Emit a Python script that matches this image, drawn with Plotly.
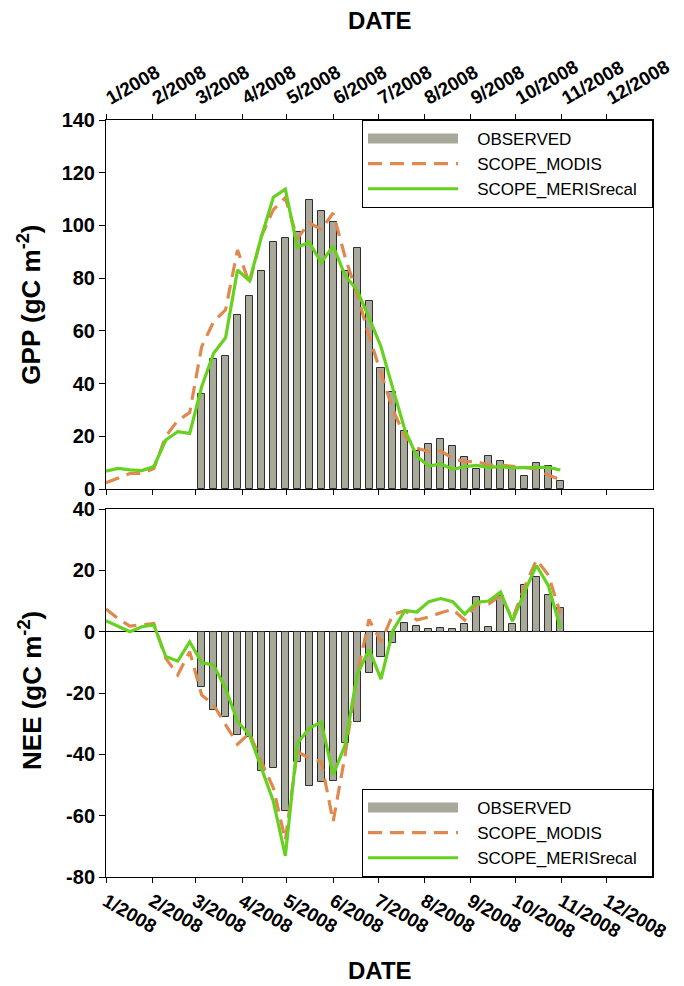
import plotly.graph_objects as go

# ---- data ----
dates = ["2008-01-01", "2008-01-09", "2008-01-17", "2008-01-25", "2008-02-02", "2008-02-10",
         "2008-02-18", "2008-02-26", "2008-03-05", "2008-03-13", "2008-03-21", "2008-03-29",
         "2008-04-06", "2008-04-14", "2008-04-22", "2008-04-30", "2008-05-08", "2008-05-16",
         "2008-05-24", "2008-06-01", "2008-06-09", "2008-06-17", "2008-06-25", "2008-07-03",
         "2008-07-11", "2008-07-19", "2008-07-27", "2008-08-04", "2008-08-12", "2008-08-20",
         "2008-08-28", "2008-09-05", "2008-09-13", "2008-09-21", "2008-09-29", "2008-10-07",
         "2008-10-15", "2008-10-23", "2008-10-31"]
obs_dates = dates[8:]

gpp_observed = [36, 49.3, 50.5, 66, 73.4, 82.7, 93.6, 95.2, 97.4, 109.5, 105.5, 101.2, 82.7, 91.6,
                71.5, 46, 36.9, 22.1, 14.4, 16.9, 19, 16.4, 12, 7.6, 12.4, 10.7, 7.8, 4.9, 9.7, 8.7, 3.0]
gpp_modis = [2.4, 4.3, 5.9, 5.9, 7.8, 20, 26, 29, 54, 63.5, 68, 90.7, 78, 96, 106, 110.5, 95, 101,
             98.5, 104.7, 88, 74, 58, 44, 30, 20, 15.5, 14.2, 14.5, 11.6, 10.4, 10.4, 9.1, 9.1, 8.7,
             8.2, 7.5, 5.3, 3.5]
gpp_meris = [6.8, 7.8, 7.3, 7.0, 8.5, 18.6, 21.8, 21.1, 38.8, 51.5, 57.4, 83.1, 79, 95.7, 110.7,
             113.8, 91.7, 93.6, 85.9, 92.2, 81, 75.5, 65, 54, 38, 22.4, 12.3, 8.7, 9.5, 7.5, 8.5,
             9.0, 8.2, 8.5, 8.0, 8.2, 8.2, 8.2, 7.2]

nee_observed = [-17.9, -25.7, -27.9, -33.7, -34.4, -45.4, -44.3, -58.4, -42.4, -50.3, -49.1, -48.7,
                -36.4, -29.5, -13.4, -8.4, -3.8, 2.7, 2.0, 0.8, 1.2, 1.0, 2.5, 11.4, 1.5, 11.6, 2.6,
                15.3, 17.9, 12.1, 7.6]
nee_modis = [7.4, 4.3, 1.8, 2.2, 2.7, -8.7, -14.1, -6.5, -20.6, -23.9, -30.4, -36.7, -33.1, -42.4,
             -51, -68, -39.1, -41.3, -42.4, -61.9, -40.2, -14.1, 4.0, -3.4, 5.6, 6.9, 3.8, 4.8, 6.2,
             7.3, 3.8, 9.0, 9.0, 11.8, 4.2, 14.5, 23.4, 18.5, 6.0]
nee_meris = [3.6, 1.8, 0, 1.6, 2.2, -8.1, -9.6, -3.3, -10.1, -10.9, -18.5, -29.3, -33.7, -44.5,
             -55.4, -73.1, -36.4, -31.5, -29.5, -46.7, -36.9, -14.1, -5.8, -15.5, 0.4, 6.9, 6.4,
             9.8, 10.8, 9.8, 5.7, 9.6, 10.0, 12.9, 3.4, 12.9, 21.6, 15.0, 1.2]

tick_vals = ["2008-%02d-01" % m for m in range(1, 13)]
tick_text = ["%d/2008" % m for m in range(1, 13)]
gpp_ticks = [0, 20, 40, 60, 80, 100, 120, 140]
nee_ticks = [-80, -60, -40, -20, 0, 20, 40]
series_names = ["OBSERVED", "SCOPE_MODIS", "SCOPE_MERISrecal"]

# ---- style ----
FONT = "Liberation Sans, Arial, sans-serif"
BAR_FILL = "#A9A99B"
BAR_LINE = "#2f2f2f"
ORANGE = "#E0884E"
GREEN = "#66D11F"
BAR_W = 4.7 * 86400000
PAD = "\u00a0\u00a0\u00a0"
TPAD = "\u00a0\u00a0"

fig = go.Figure()

def add_panel(xa, ya, obs, modis, meris, leg):
    fig.add_trace(go.Bar(x=obs_dates, y=obs, xaxis=xa, yaxis=ya, width=BAR_W,
                         marker=dict(color=BAR_FILL, line=dict(color=BAR_LINE, width=1)),
                         name=series_names[0], showlegend=False))
    # legend glyph for the bars (wide grey bar)
    fig.add_trace(go.Scatter(x=[None], y=[None], xaxis=xa, yaxis=ya, mode="lines",
                             line=dict(color=BAR_FILL, width=10),
                             name=PAD + series_names[0] + TPAD, legend=leg))
    fig.add_trace(go.Scatter(x=dates, y=modis, xaxis=xa, yaxis=ya, mode="lines",
                             line=dict(color=ORANGE, width=3.2, dash="14px,8px"),
                             name=PAD + series_names[1] + TPAD, legend=leg))
    fig.add_trace(go.Scatter(x=dates, y=meris, xaxis=xa, yaxis=ya, mode="lines",
                             line=dict(color=GREEN, width=3.2),
                             name=PAD + series_names[2] + TPAD, legend=leg))

add_panel("x", "y", gpp_observed, gpp_modis, gpp_meris, "legend")
add_panel("x2", "y2", nee_observed, nee_modis, nee_meris, "legend2")

xcommon = dict(type="date", range=["2008-01-01", "2009-01-01"], tickvals=tick_vals,
               ticktext=tick_text, ticks="outside", ticklen=5, tickcolor="black",
               showline=True, linecolor="black", linewidth=1, showgrid=False, zeroline=False,
               tickfont=dict(family=FONT, size=19, color="black", weight="bold"))
ycommon = dict(ticks="outside", ticklen=6, tickcolor="black", showline=True, linecolor="black",
               linewidth=1, mirror=True, showgrid=False,
               tickfont=dict(family=FONT, size=20, color="black", weight="bold"))

legcommon = dict(font=dict(family=FONT, size=17, color="black"), bgcolor="white",
                 bordercolor="black", borderwidth=1, itemwidth=90, xanchor="right", x=1,
                 tracegroupgap=0)

TITLE_FONT = dict(family=FONT, size=24, color="black", weight="bold")
YTITLE_FONT = dict(family=FONT, size=26, color="black", weight="bold")

# page body has an 8px margin: shrink the figure by 8px and shift margins accordingly
fig.update_layout(
    width=676, height=978,
    margin=dict(l=98, r=31, t=112, b=109),
    paper_bgcolor="white", plot_bgcolor="white",
    bargap=0,
    xaxis=dict(domain=[0, 1], anchor="y", side="top", tickangle=-30, mirror="ticks", **xcommon),
    xaxis2=dict(domain=[0, 1], anchor="y2", side="bottom", tickangle=30, mirror=True, **xcommon),
    yaxis=dict(domain=[0.5125, 1], range=[0, 140], zeroline=False, tickvals=gpp_ticks,
               ticktext=[str(v) for v in gpp_ticks], **ycommon),
    yaxis2=dict(domain=[0, 0.4861], range=[-80, 40], zeroline=True, zerolinecolor="black",
                zerolinewidth=1, tickvals=nee_ticks, ticktext=[str(v) for v in nee_ticks],
                **ycommon),
    legend=dict(y=1, yanchor="top", **legcommon),
    legend2=dict(y=0, yanchor="bottom", **legcommon),
    annotations=[
        dict(text="DATE", xref="paper", yref="paper", x=0.5, y=1.132, showarrow=False,
             xanchor="center", yanchor="middle", font=TITLE_FONT),
        dict(text="DATE", xref="paper", yref="paper", x=0.5, y=-0.123, showarrow=False,
             xanchor="center", yanchor="middle", font=TITLE_FONT),
        dict(text="GPP (gC m<sup>-2</sup>)", xref="paper", yref="paper", x=-0.139, y=0.756,
             textangle=-90, showarrow=False, xanchor="center", yanchor="middle",
             font=YTITLE_FONT),
        dict(text="NEE (gC m<sup>-2</sup>)", xref="paper", yref="paper", x=-0.139, y=0.247,
             textangle=-90, showarrow=False, xanchor="center", yanchor="middle",
             font=YTITLE_FONT),
    ],
)

fig.write_html("out.html")
